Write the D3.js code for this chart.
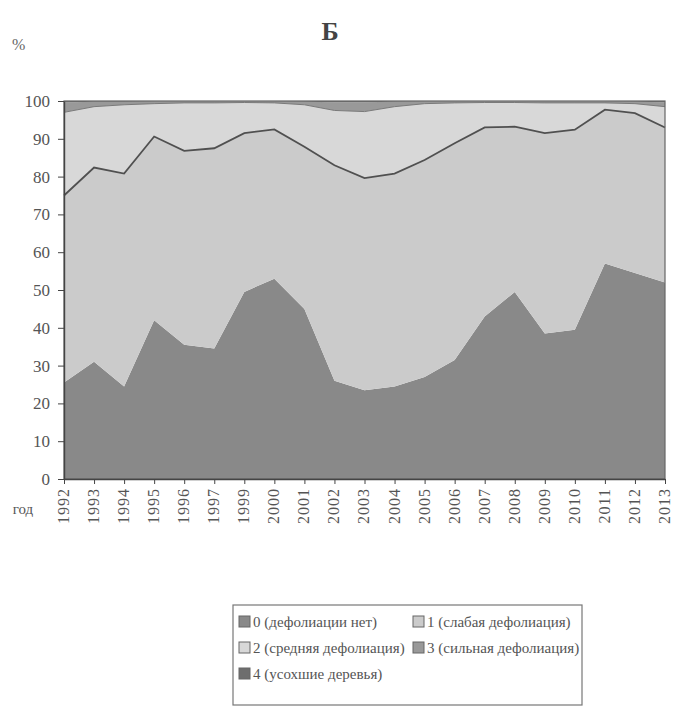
<!DOCTYPE html>
<html><head><meta charset="utf-8">
<script src="https://cdn.jsdelivr.net/npm/d3@7"></script>
<style>body{margin:0;background:#fff}svg{display:block}</style>
</head><body>
<svg id="c" width="673" height="709"></svg>
<script>
const years = ["1992","1993","1994","1995","1996","1997","1999","2000","2001","2002","2003","2004","2005","2006","2007","2008","2009","2010","2011","2012","2013"];
const def0 = [25.5,31,24.5,42,35.5,34.5,49.5,53,45,26,23.5,24.5,27,31.5,43,49.5,38.5,39.5,57,54.5,52];
const def1 = [49.5,51.4,56.3,48.6,51.3,53,42,39.5,42.9,57,56.1,56.3,57.4,57.3,50,43.7,53,52.9,40.7,42.3,41];
const def2 = [22,16.1,18.2,8.7,12.7,12,8.1,7,11.1,14.5,17.6,17.7,14.9,10.7,6.6,6.4,8,7.1,1.8,2.5,5.5];
const def3 = [2.6,1.3,0.8,0.6,0.4,0.4,0.3,0.4,0.8,2.2,2.5,1.3,0.6,0.4,0.3,0.3,0.4,0.4,0.4,0.5,1.2];
const def4 = [0.4,0.2,0.2,0.1,0.1,0.1,0.1,0.1,0.2,0.3,0.3,0.2,0.1,0.1,0.1,0.1,0.1,0.1,0.1,0.2,0.3];
const yTicks = [0,10,20,30,40,50,60,70,80,90,100];
const legendLabels = ["0 (дефолиации нет)","1 (слабая дефолиация)","2 (средняя дефолиация)","3 (сильная дефолиация)","4 (усохшие деревья)"];
const titleText = "Б";
const yUnit = "%";
const xUnit = "год";

const colors = ["#898989","#cbcbcb","#d8d8d8","#999999","#6e6e6e"];
const keys = ["d0","d1","d2","d3","d4"];
const series = [def0,def1,def2,def3,def4];
const rows = years.map((y,i)=>{const o={year:y}; keys.forEach((k,j)=>o[k]=series[j][i]); return o;});

const L=64,R=665,T=101,B=479;
const svg = d3.select("#c");
const font = "'Liberation Serif','Times New Roman',serif";
const x = d3.scalePoint().domain(years).range([L,R]);
const y = d3.scaleLinear().domain([0,100]).range([B,T]);

const stack = d3.stack().keys(keys)(rows);
const area = d3.area().x(d=>x(d.data.year)).y0(d=>y(d[0])).y1(d=>y(d[1]));
svg.append("g").selectAll("path").data(stack).join("path")
  .attr("d",area).attr("fill",(d,i)=>colors[i]);

// boundary line between class 1 and class 2
const line = d3.line().x(d=>x(d.data.year)).y(d=>y(d[1]));
svg.append("path").datum(stack[1]).attr("d",line)
  .attr("fill","none").attr("stroke","#505050").attr("stroke-width",1.8);
svg.append("path").datum(stack[2]).attr("d",line)
  .attr("fill","none").attr("stroke","#7a7a7a").attr("stroke-width",1);

// plot border
svg.append("rect").attr("x",L).attr("y",T).attr("width",R-L).attr("height",B-T)
  .attr("fill","none").attr("stroke","#666").attr("stroke-width",1.2);

// axes
const ya = svg.append("g").attr("transform",`translate(${L},0)`)
  .call(d3.axisLeft(y).tickValues(yTicks).tickSize(6).tickPadding(8).tickSizeOuter(0));
ya.select(".domain").attr("stroke","#444").attr("stroke-width",1.4);
ya.selectAll(".tick line").attr("stroke","#444");
ya.selectAll("text").attr("font-family",font).attr("font-size",17).attr("fill","#555");

const xa = svg.append("g").attr("transform",`translate(0,${B})`)
  .call(d3.axisBottom(x).tickSize(5).tickSizeOuter(0).tickPadding(4));
xa.select(".domain").attr("stroke","#444").attr("stroke-width",1.4);
xa.selectAll(".tick line").attr("stroke","#444");
xa.selectAll("text").attr("font-family",font).attr("font-size",16).attr("fill","#555")
  .attr("letter-spacing",1).attr("text-anchor","end").attr("dy","0.28em")
  .attr("transform","translate(0,7) rotate(-90)").attr("x",-2).attr("y",0);

svg.append("text").attr("x",330).attr("y",40).attr("text-anchor","middle")
  .attr("font-family",font).attr("font-weight","bold").attr("font-size",26).attr("fill","#444").text(titleText);
svg.append("text").attr("x",12).attr("y",50)
  .attr("font-family",font).attr("font-size",16).attr("fill","#666").text(yUnit);
svg.append("text").attr("x",23).attr("y",514).attr("text-anchor","middle")
  .attr("font-family",font).attr("font-size",15).attr("fill","#555").text(xUnit);

// legend
const lx=233, ly=605, lw=349, lh=100;
svg.append("rect").attr("x",lx).attr("y",ly).attr("width",lw).attr("height",lh)
  .attr("fill","#fff").attr("stroke","#777").attr("stroke-width",1.2);
const pos = [[lx+6,ly+22],[lx+180,ly+22],[lx+6,ly+48],[lx+180,ly+48],[lx+6,ly+74]];
const lg = svg.append("g").selectAll("g").data(legendLabels).join("g")
  .attr("transform",(d,i)=>`translate(${pos[i][0]},${pos[i][1]})`);
lg.append("rect").attr("x",0).attr("y",-11).attr("width",11).attr("height",11)
  .attr("fill",(d,i)=>colors[i]).attr("stroke","#666").attr("stroke-width",1);
lg.append("text").attr("x",14).attr("y",0).attr("font-family",font).attr("font-size",15)
  .attr("fill","#555").text(d=>d);
</script>
</body></html>
